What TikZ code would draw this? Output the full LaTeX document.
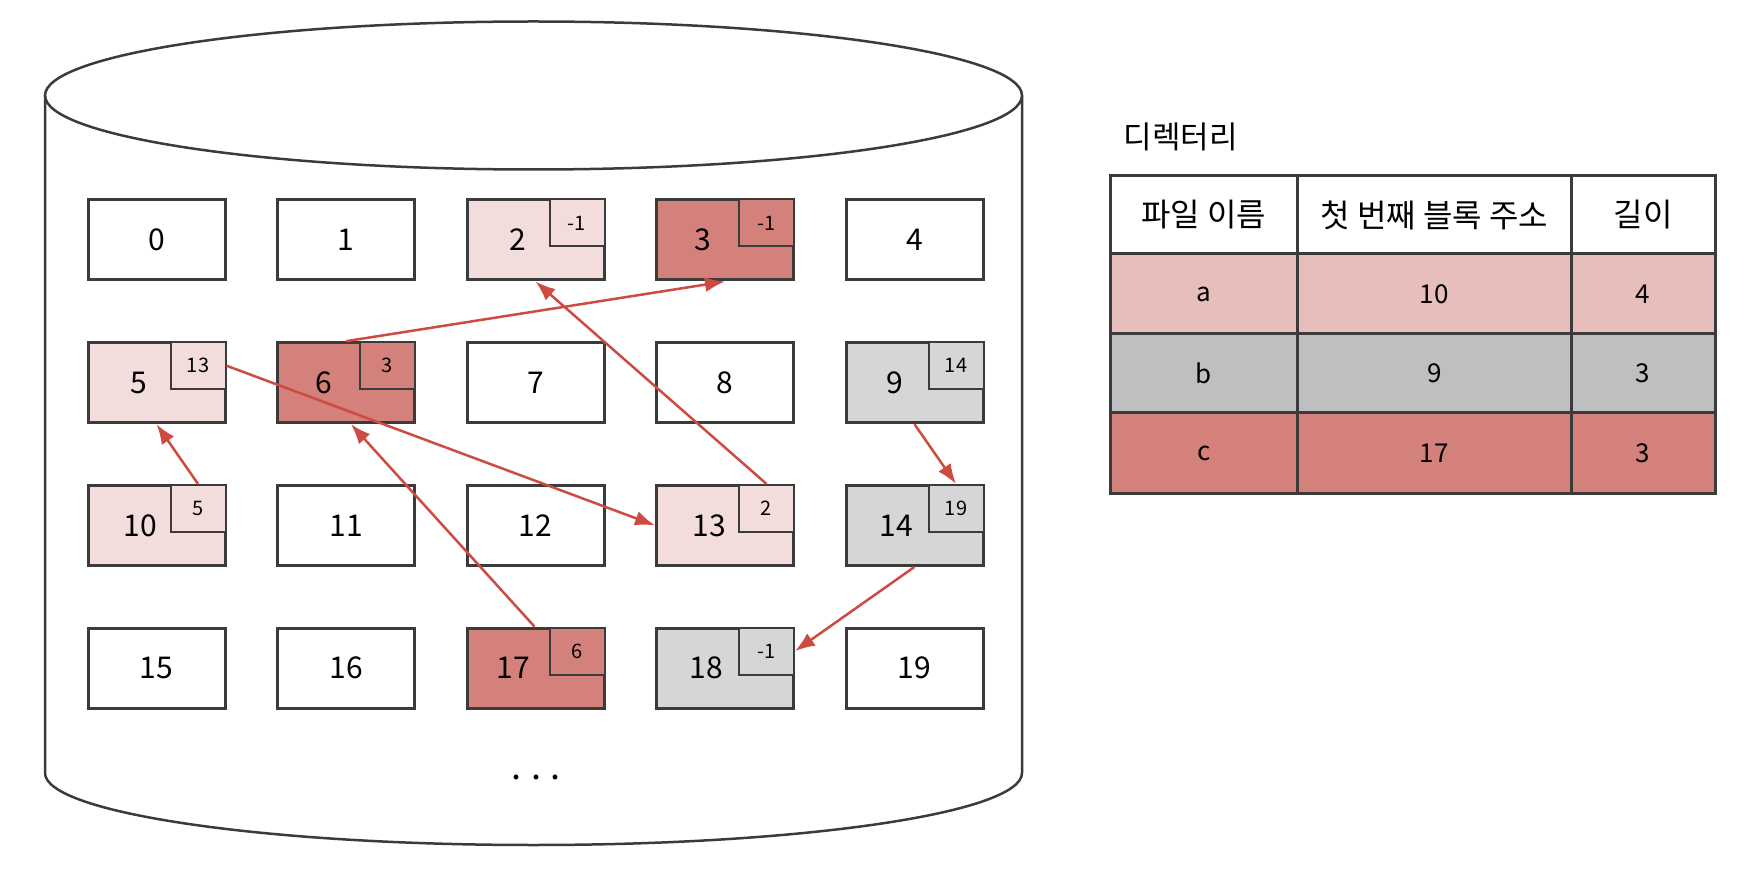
\documentclass[tikz,border=0pt]{standalone}
\usepackage{fontspec}
\setmainfont{Noto Sans CJK KR}
\usetikzlibrary{arrows.meta}
\definecolor{bord}{HTML}{3B3B3B}
\definecolor{lpink}{HTML}{F3DCDC}
\definecolor{dred}{HTML}{D5817B}
\definecolor{lgray}{HTML}{D5D6D6}
\definecolor{ta}{HTML}{E8BEBD}
\definecolor{tb}{HTML}{BEBFC1}
\definecolor{tc}{HTML}{D5817B}
\definecolor{arrc}{HTML}{CD4B41}
\begin{document}
\begin{tikzpicture}[x=1pt,y=-1pt,
  blk/.style={draw=bord, line width=3pt, minimum width=137pt, minimum height=80pt, inner sep=0pt},
  inb/.style={draw=bord, line width=2pt, minimum width=55pt, minimum height=47pt, inner sep=0pt, anchor=north east, font=\fontsize{20}{20}\selectfont},
  num/.style={font=\fontsize{30}{30}\selectfont, inner sep=0pt},
  arr/.style={draw=arrc, line width=2.5pt, -{Latex[length=20pt,width=15pt]}},
  cell/.style={draw=bord, line width=3pt, inner sep=0pt, font=\fontsize{26}{26}\selectfont},
  hcell/.style={cell, font=\fontsize{32}{32}\selectfont}]
\useasboundingbox (0,0) rectangle (1746,890);
% cylinder
\draw[bord, line width=2.5pt] (45,95.5) -- (45,773) arc[start angle=180, end angle=0, x radius=488.5, y radius=72] -- (1022,95.5);
\draw[bord, line width=2.5pt] (533.5,95.5) ellipse [x radius=488.5, y radius=74];
% blocks
\foreach \n/\c/\r/\f/\s in {0/0/0/white/0, 1/1/0/white/0, 2/2/0/lpink/-18, 3/3/0/dred/-22, 4/4/0/white/0,
  5/0/1/lpink/-18, 6/1/1/dred/-22, 7/2/1/white/0, 8/3/1/white/0, 9/4/1/lgray/-20,
  10/0/2/lpink/-16, 11/1/2/white/0, 12/2/2/white/0, 13/3/2/lpink/-16, 14/4/2/lgray/-18,
  15/0/3/white/0, 16/1/3/white/0, 17/2/3/dred/-22, 18/3/3/lgray/-19, 19/4/3/white/0}{
  \node[blk, fill=\f] (b\n) at ({156.5+189.5*\c},{240+142.7*\r}) {};
  \node[num] (l\n) at ([xshift=\s pt]b\n.center) {\n};
}
\node[inb, fill=lpink] (i2) at (b2.north east) {-1};
\node[inb, fill=dred] (i3) at (b3.north east) {-1};
\node[inb, fill=lpink] (i5) at (b5.north east) {13};
\node[inb, fill=dred] (i6) at (b6.north east) {3};
\node[inb, fill=lgray] (i9) at (b9.north east) {14};
\node[inb, fill=lpink] (i10) at (b10.north east) {5};
\node[inb, fill=lpink] (i13) at (b13.north east) {2};
\node[inb, fill=lgray] (i14) at (b14.north east) {19};
\node[inb, fill=dred] (i17) at (b17.north east) {6};
\node[inb, fill=lgray] (i18) at (b18.north east) {-1};
\node[font=\fontsize{36}{36}\selectfont, inner sep=0pt] (dots) at (536,777) {.\hspace{9pt}.\hspace{9pt}.};
% arrows
\draw[arr] (b6.north) -- (b3.south);
\draw[arr] (i5.east) -- (b13.west);
\draw[arr] (i13.north) -- (b2.south);
\draw[arr] (i10.north) -- (b5.south);
\draw[arr] ([xshift=-1pt]b17.north) -- ([xshift=5pt]b6.south);
\draw[arr] (b9.south) -- (i14.north);
\draw[arr] (b14.south) -- (i18.east);
% directory table
\node[font=\fontsize{31}{31}\selectfont, anchor=west] (title) at (1120,137) {디렉터리};
\node[hcell, fill=white, minimum width=187.5pt, minimum height=78pt] (h1) at (1203.75,215) {파일 이름};
\node[hcell, fill=white, minimum width=273.5pt, minimum height=78pt] (h2) at (1434.25,215) {첫 번째 블록 주소};
\node[hcell, fill=white, minimum width=144pt, minimum height=78pt] (h3) at (1643,215) {길이};
\node[cell, fill=ta, minimum width=187.5pt, minimum height=80pt] (a1) at (1203.75,294) {a};
\node[cell, fill=ta, minimum width=273.5pt, minimum height=80pt] (a2) at (1434.25,294) {10};
\node[cell, fill=ta, minimum width=144pt, minimum height=80pt] (a3) at (1643,294) {4};
\node[cell, fill=tb, minimum width=187.5pt, minimum height=79pt] (bb1) at (1203.75,373.5) {b};
\node[cell, fill=tb, minimum width=273.5pt, minimum height=79pt] (bb2) at (1434.25,373.5) {9};
\node[cell, fill=tb, minimum width=144pt, minimum height=79pt] (bb3) at (1643,373.5) {3};
\node[cell, fill=tc, minimum width=187.5pt, minimum height=80pt] (c1) at (1203.75,453) {c};
\node[cell, fill=tc, minimum width=273.5pt, minimum height=80pt] (c2) at (1434.25,453) {17};
\node[cell, fill=tc, minimum width=144pt, minimum height=80pt] (c3) at (1643,453) {3};
\end{tikzpicture}
\end{document}
